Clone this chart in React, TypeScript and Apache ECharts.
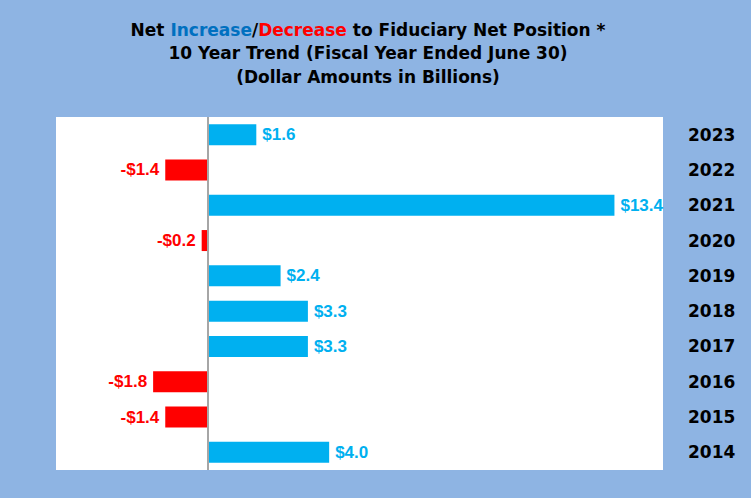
import React, { useEffect, useRef } from "react";
import * as echarts from "echarts";

const years = ["2014", "2015", "2016", "2017", "2018", "2019", "2020", "2021", "2022", "2023"];
const values = [4.0, -1.4, -1.8, 3.3, 3.3, 2.4, -0.2, 13.4, -1.4, 1.6];

const POS = "#00B0F0";
const NEG = "#FF0000";

export default function App() {
  const ref = useRef<HTMLDivElement>(null);
  useEffect(() => {
    document.body.style.margin = "0";
    const chart = echarts.init(ref.current!, null, { renderer: "svg" });
    const data = values.map((v) => ({
      value: v,
      itemStyle: { color: v >= 0 ? POS : NEG },
      label: {
        show: true,
        position: v >= 0 ? "right" : "left",
        distance: 6,
        color: v >= 0 ? POS : NEG,
        fontFamily: "Liberation Sans",
        fontWeight: "bold",
        fontSize: 17,
        formatter: () => (v >= 0 ? "$" + v.toFixed(1) : "-$" + Math.abs(v).toFixed(1)),
      },
    }));
    const rs = (color: string) => ({
      color,
      fontFamily: "DejaVu Sans",
      fontWeight: "bold",
      fontSize: 17,
      lineHeight: 23.5,
    });
    chart.setOption({
      animation: false,
      backgroundColor: "#8EB4E3",
      title: {
        left: 363,
        top: 13,
        textAlign: "center",
        text:
          "{k|Net }{b|Increase}{k|/}{r|Decrease}{k| to Fiduciary Net Position *}\n{k|10 Year Trend (Fiscal Year Ended June 30)}\n{k|(Dollar Amounts in Billions)}",
        textStyle: {
          rich: {
            k: rs("#000"),
            b: rs("#0070C0"),
            r: rs("#FF0000"),
          },
        },
      },
      grid: {
        left: 56,
        right: 88,
        top: 117,
        bottom: 28,
        show: true,
        backgroundColor: "#FFFFFF",
        borderWidth: 0,
      },
      xAxis: {
        type: "value",
        min: -5,
        max: 15,
        axisLabel: { show: false },
        axisLine: { show: false },
        axisTick: { show: false },
        splitLine: { show: false },
      },
      yAxis: {
        type: "category",
        data: years,
        position: "right",
        axisLine: { show: false },
        axisTick: { show: false },
        axisLabel: {
          margin: 25,
          color: "#000",
          fontFamily: "DejaVu Sans",
          fontWeight: "bold",
          fontSize: 17,
        },
      },
      series: [
        {
          type: "bar",
          data,
          barWidth: 21,
          markLine: {
            silent: true,
            symbol: "none",
            label: { show: false },
            lineStyle: { color: "#A6A6A6", width: 2, type: "solid" },
            data: [{ xAxis: 0 }],
          },
        },
      ],
    });
    return () => chart.dispose();
  }, []);
  return <div ref={ref} style={{ width: 751, height: 498 }} />;
}
